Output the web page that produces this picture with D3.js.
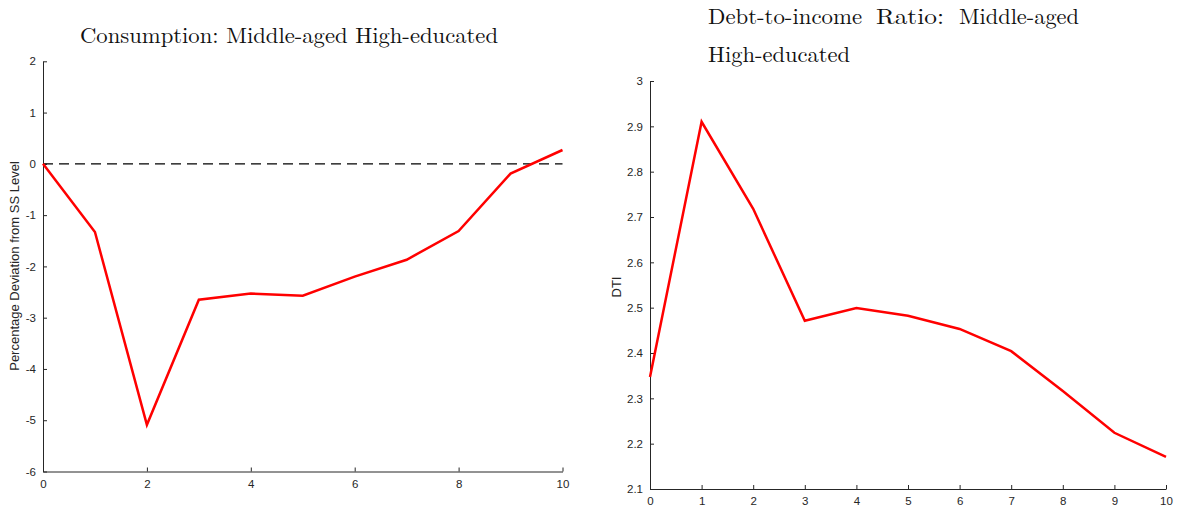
<!DOCTYPE html>
<html>
<head>
<meta charset="utf-8">
<script src="https://cdn.jsdelivr.net/npm/d3@7"></script>
<style>
  html, body { margin: 0; padding: 0; background: #fff; }
  svg { display: block; }
  .tick text { font-family: "Liberation Sans", Arial, sans-serif; font-size: 11.5px; fill: #262626; }
  .title { font-family: "Latin Modern Roman", "CMU Serif", "DejaVu Serif", serif; font-size: 22px; fill: #111; }
  .ylabel { font-family: "Liberation Sans", Arial, sans-serif; font-size: 13px; fill: #262626; }
</style>
</head>
<body>
<svg id="chart" width="1177" height="510"></svg>
<script>
// Horizon (periods after the shock)
const periods = [0, 1, 2, 3, 4, 5, 6, 7, 8, 9, 10];

// Consumption response, % deviation from steady state
const consumption = [0, -1.33, -5.09, -2.65, -2.53, -2.57, -2.20, -1.87, -1.31, -0.19, 0.27];

// Debt-to-income ratio path
const dti = [2.347, 2.910, 2.718, 2.471, 2.499, 2.482, 2.453, 2.404, 2.316, 2.224, 2.171];

// Tick labels
const consTicksY = [-6, -5, -4, -3, -2, -1, 0, 1, 2];
const consTicksX = [0, 2, 4, 6, 8, 10];
const dtiTicksY = [2.1, 2.2, 2.3, 2.4, 2.5, 2.6, 2.7, 2.8, 2.9, 3];
const dtiTicksX = [0, 1, 2, 3, 4, 5, 6, 7, 8, 9, 10];

const svg = d3.select("#chart");
const axisColor = "#262626";

function panel(opts) {
  const x = d3.scaleLinear().domain([0, 10]).range([opts.left, opts.right]);
  const y = d3.scaleLinear().domain(opts.yDomain).range([opts.bottom, opts.top]);
  const g = svg.append("g");

  const xAxis = d3.axisBottom(x).tickValues(opts.xTicks).tickFormat(d => String(d))
    .tickSizeInner(-4).tickSizeOuter(0).tickPadding(8);
  const yAxis = d3.axisLeft(y).tickValues(opts.yTicks).tickFormat(opts.yFormat)
    .tickSizeInner(-4).tickSizeOuter(0).tickPadding(7);

  const gx = g.append("g").attr("transform", `translate(0,${opts.bottom})`).call(xAxis);
  const gy = g.append("g").attr("transform", `translate(${opts.left},0)`).call(yAxis);
  [gx, gy].forEach(a => {
    a.selectAll(".domain").attr("stroke", axisColor).attr("stroke-width", 1);
    a.selectAll(".tick line").attr("stroke", axisColor).attr("stroke-width", 1);
  });

  if (opts.zeroLine) {
    g.append("line")
      .attr("x1", x(0)).attr("x2", x(10))
      .attr("y1", y(0)).attr("y2", y(0))
      .attr("stroke", "#000").attr("stroke-width", 1.1)
      .attr("stroke-dasharray", "10,6");
  }

  const line = d3.line().x((d, i) => x(periods[i])).y(d => y(d));
  g.append("path").datum(opts.values)
    .attr("d", line)
    .attr("fill", "none")
    .attr("stroke", "#ff0000")
    .attr("stroke-width", 2.5)
    .attr("stroke-linejoin", "miter");

  g.append("text").attr("class", "ylabel")
    .attr("transform", `translate(${opts.ylabelX},${opts.ylabelY}) rotate(-90)`)
    .attr("text-anchor", "middle")
    .text(opts.ylabel);

  return { x, y, g };
}

panel({
  left: 43, right: 562.5, top: 61.3, bottom: 471.5,
  yDomain: [-6, 2], yTicks: consTicksY, xTicks: consTicksX,
  yFormat: d => String(d),
  values: consumption, zeroLine: true,
  ylabel: "Percentage Deviation from SS Level", ylabelX: 19, ylabelY: 266
});

panel({
  left: 650, right: 1166, top: 81, bottom: 489,
  yDomain: [2.1, 3], yTicks: dtiTicksY, xTicks: dtiTicksX,
  yFormat: d => (d === 3 ? "3" : d3.format(".1f")(d)),
  values: dti, zeroLine: false,
  ylabel: "DTI", ylabelX: 621, ylabelY: 287
});

// Titles
svg.append("text").attr("class", "title")
  .attr("x", 80).attr("y", 43)
  .attr("textLength", 418).attr("lengthAdjust", "spacingAndGlyphs")
  .text("Consumption: Middle-aged High-educated");

// Two-line justified title on the right panel
const titleWords = [
  { text: "Debt-to-income", x: 708, y: 24, w: 154 },
  { text: "Ratio:", x: 876, y: 24, w: 68 },
  { text: "Middle-aged", x: 959, y: 24, w: 120 },
  { text: "High-educated", x: 708, y: 62, w: 142 }
];
svg.selectAll("text.tword").data(titleWords).join("text")
  .attr("class", "title tword")
  .attr("x", d => d.x).attr("y", d => d.y)
  .attr("textLength", d => d.w).attr("lengthAdjust", "spacingAndGlyphs")
  .text(d => d.text);
</script>
</body>
</html>
